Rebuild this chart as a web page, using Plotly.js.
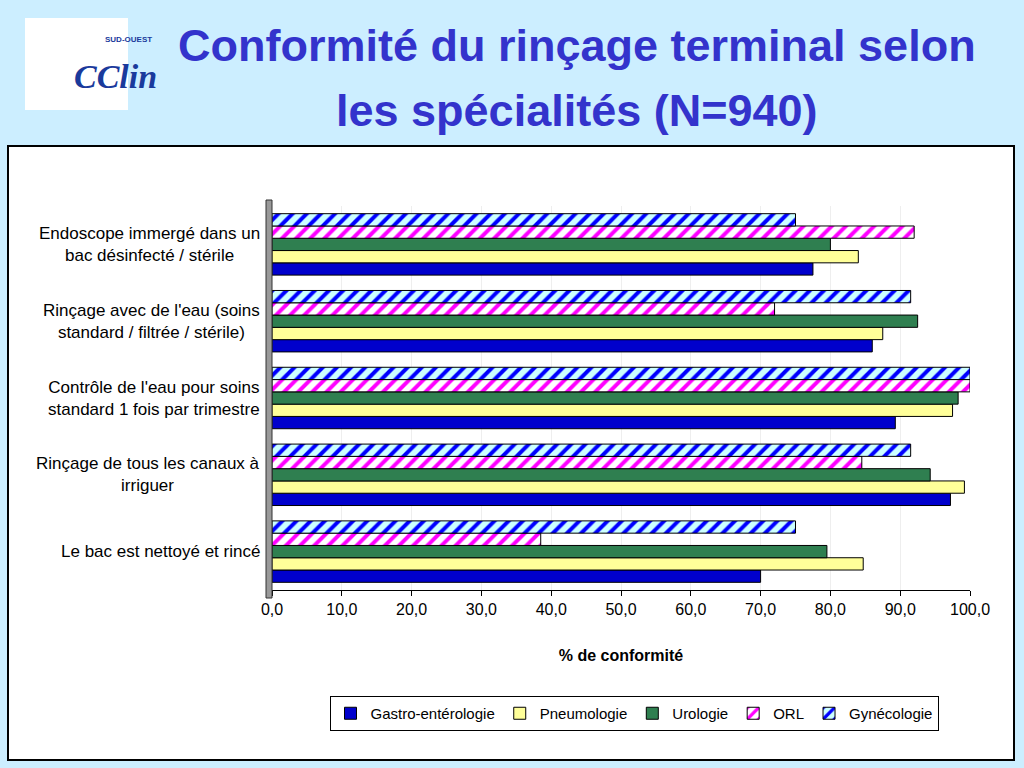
<!DOCTYPE html>
<html><head><meta charset="utf-8">
<script src="https://cdn.plot.ly/plotly-3.0.1.min.js"></script>
<style>html,body{margin:0;padding:0;background:#cceeff;}#c{width:1024px;height:768px;}</style>
</head><body><div id="c"></div>
<script>
const categories = ["Le bac est nettoyé et rincé", "Rinçage de tous les canaux à<br>irriguer", "Contrôle de l'eau pour soins<br>standard 1 fois par trimestre", "Rinçage avec de l'eau (soins<br>standard / filtrée / stérile)", "Endoscope immergé dans un<br>bac désinfecté / stérile"];
const seriesNames = ["Gastro-entérologie", "Pneumologie", "Urologie", "ORL", "Gynécologie"];
const gastro = [70.0, 97.2, 89.3, 86.0, 77.5];
const pneumo = [84.7, 99.2, 97.5, 87.5, 84.0];
const urologie = [79.5, 94.3, 98.3, 92.5, 80.0];
const orl = [38.5, 84.5, 100.0, 72.0, 92.0];
const gyneco = [75.0, 91.5, 100.0, 91.5, 75.0];
const tickVals = [0,10,20,30,40,50,60,70,80,90,100];
const tickText = ["0,0","10,0","20,0","30,0","40,0","50,0","60,0","70,0","80,0","90,0","100,0"];
const titleLines = ["Conformité du rinçage terminal selon", "les spécialités (N=940)"];

const FONT = "Liberation Sans, Arial, sans-serif";
const values = [gastro, pneumo, urologie, orl, gyneco];
const fills = ["#0000cc", "#ffff99", "#2f7f50", "#ffffff", "#ccffff"];
const patterns = [null, null, null, {shape:"/", fgcolor:"#ff00ff", bgcolor:"#ffffff", size:10, solidity:0.4},
                  {shape:"/", fgcolor:"#0000ff", bgcolor:"#ccffff", size:10, solidity:0.4}];

const traces = values.map((v,i)=>{
  const m = {color: fills[i], line:{color:"#000000", width:1}};
  if (patterns[i]) m.pattern = patterns[i];
  return {type:"bar", orientation:"h", name: seriesNames[i], y: categories, x: v, marker: m};
});

// plot area: l=272, r=54, t=206, b=178 -> width 698, height 384
const PX = x => (x-272)/698;
const PY = y => (590-y)/384;

const annotations = categories.map(c=>({
  xref:"paper", yref:"y", x:PX(262), y:c, text:c, showarrow:false, xanchor:"right", align:"center",
  font:{family:FONT, size:17, color:"#000"}
}));
annotations.push({xref:"paper", yref:"paper", x:PX(577), y:PY(45), yanchor:"middle", xanchor:"center", showarrow:false,
  text:"<b>"+titleLines[0]+"</b>", font:{family:FONT, size:45, color:"#3333cc"}});
annotations.push({xref:"paper", yref:"paper", x:PX(577), y:PY(110), yanchor:"middle", xanchor:"center", showarrow:false,
  text:"<b>"+titleLines[1]+"</b>", font:{family:FONT, size:45, color:"#3333cc"}});
annotations.push({xref:"paper", yref:"paper", x:PX(72), y:PY(56), showarrow:false, text:"<i><b>CClin</b></i>",
  font:{family:"Liberation Serif, serif", size:34, color:"#1a3a9c"}});
annotations.push({xref:"paper", yref:"paper", x:PX(103), y:PY(33), showarrow:false, text:"<b>SUD-OUEST</b>",
  font:{family:FONT, size:8, color:"#1a3a9c"}});

const layout = {
  width:1024, height:768,
  paper_bgcolor:"#cceeff", plot_bgcolor:"rgba(0,0,0,0)",
  margin:{l:272, r:54, t:206, b:178},
  barmode:"group", bargap:0.2, bargroupgap:0,
  xaxis:{range:[0,100], tickvals:tickVals, ticktext:tickText, showgrid:true, gridcolor:"#eeeeee", gridwidth:1,
         zeroline:false, showline:true, linecolor:"#000", ticks:"outside", ticklen:5, tickcolor:"#000",
         tickfont:{family:FONT, size:16, color:"#000"},
         title:{text:"<b>% de conformité</b>", standoff:32, font:{family:FONT, size:16, color:"#000"}}},
  yaxis:{showticklabels:false, showgrid:false, zeroline:false, showline:false, ticks:""},
  legend:{orientation:"h", x:PX(634), xanchor:"center", y:PY(696), yanchor:"top", bgcolor:"#ffffff", bordercolor:"#000", borderwidth:1,
          font:{family:FONT, size:15, color:"#000"}, itemwidth:30, tracegroupgap:0},
  annotations: annotations,
  shapes:[
    {type:"rect", xref:"paper", yref:"paper", layer:"below", x0:PX(8), x1:PX(1014), y0:PY(760), y1:PY(146), fillcolor:"#ffffff", line:{color:"#000", width:2}},
    {type:"rect", xref:"paper", yref:"paper", layer:"below", x0:PX(25), x1:PX(128), y0:PY(110), y1:PY(18), fillcolor:"#ffffff", line:{width:0}},
    {type:"rect", xref:"paper", yref:"paper", layer:"above", x0:PX(266), x1:PX(272), y0:PY(598), y1:PY(200), fillcolor:"#999999", line:{color:"#333", width:1}}
  ]
};

Plotly.newPlot("c", traces, layout, {displayModeBar:false, staticPlot:true});
</script></body></html>
